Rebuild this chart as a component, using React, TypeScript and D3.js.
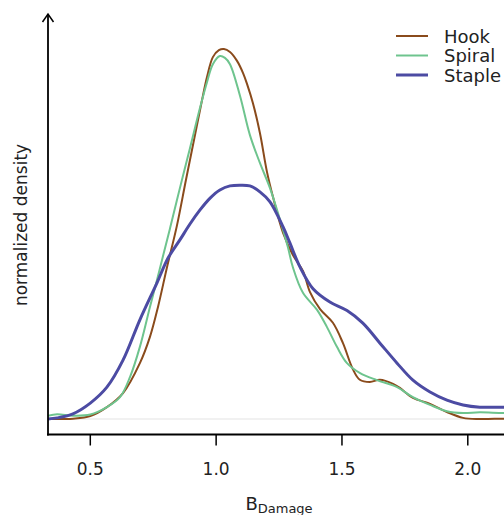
import React from 'react';
import * as d3 from 'd3';

// curves (x = B_Damage, y = normalized density)
const hook: [number, number][] = [
    [0.332, 0], [0.431, 0.001], [0.5, 0.008], [0.566, 0.032], [0.63, 0.07], [0.697, 0.151],
    [0.737, 0.222], [0.769, 0.303], [0.805, 0.411], [0.844, 0.522], [0.88, 0.646], [0.912, 0.754],
    [0.944, 0.862], [0.964, 0.925], [0.987, 0.978], [1.011, 0.997], [1.031, 1.0], [1.055, 0.992],
    [1.083, 0.968], [1.107, 0.935], [1.123, 0.905], [1.146, 0.854], [1.174, 0.773], [1.202, 0.668],
    [1.226, 0.6], [1.266, 0.503], [1.305, 0.443], [1.345, 0.4], [1.373, 0.343], [1.413, 0.297],
    [1.464, 0.26], [1.504, 0.205], [1.543, 0.135], [1.571, 0.106], [1.611, 0.1], [1.651, 0.106],
    [1.703, 0.095], [1.73, 0.084], [1.782, 0.057], [1.85, 0.041], [1.917, 0.019], [1.981, 0.003],
    [2.048, 0], [2.144, 0.001], [2.3, 0.002],
];
const spiral: [number, number][] = [
    [0.332, 0.009], [0.368, 0.013], [0.431, 0.009], [0.5, 0.012], [0.566, 0.032], [0.618, 0.059],
    [0.658, 0.114], [0.697, 0.195], [0.737, 0.303], [0.765, 0.376], [0.785, 0.43], [0.817, 0.516],
    [0.856, 0.624], [0.896, 0.732], [0.936, 0.841], [0.964, 0.911], [0.987, 0.959], [1.015, 0.981],
    [1.035, 0.976], [1.055, 0.959], [1.095, 0.873], [1.134, 0.768], [1.174, 0.692], [1.214, 0.624],
    [1.254, 0.538], [1.285, 0.465], [1.305, 0.41], [1.345, 0.341], [1.401, 0.295], [1.44, 0.249],
    [1.48, 0.195], [1.52, 0.151], [1.572, 0.124], [1.639, 0.105], [1.719, 0.086], [1.782, 0.059],
    [1.85, 0.038], [1.917, 0.021], [1.981, 0.016], [2.048, 0.018], [2.144, 0.016], [2.3, 0.016],
];
const staple: [number, number][] = [
    [0.332, 0], [0.368, 0.003], [0.431, 0.014], [0.5, 0.043], [0.566, 0.086], [0.63, 0.159],
    [0.697, 0.268], [0.765, 0.368], [0.809, 0.435], [0.856, 0.484], [0.896, 0.527], [0.936, 0.565],
    [0.976, 0.597], [1.015, 0.619], [1.055, 0.63], [1.095, 0.632], [1.134, 0.63], [1.174, 0.614],
    [1.214, 0.587], [1.266, 0.519], [1.293, 0.476], [1.333, 0.411], [1.385, 0.352], [1.452, 0.316],
    [1.52, 0.293], [1.583, 0.259], [1.651, 0.205], [1.719, 0.151], [1.782, 0.105], [1.85, 0.073],
    [1.917, 0.051], [1.981, 0.038], [2.048, 0.032], [2.144, 0.032], [2.3, 0.032],
];

const seriesNames = ['Hook', 'Spiral', 'Staple'];
const seriesData = [hook, spiral, staple];
const colors = ['#8a4b1c', '#6ec48e', '#4c4ba3'];
const widths = [2, 2, 3];
const xTicks = [0.5, 1.0, 1.5, 2.0];

const width = 504;
const height = 515;
const font = 'DejaVu Sans, sans-serif';

export default function App() {
    const x = d3.scaleLinear().domain([0.5, 2.0]).range([90.3, 467.8]);
    const y = d3.scaleLinear().domain([0, 1]).range([419, 49]);
    const line = d3.line<[number, number]>()
        .x(d => x(d[0]))
        .y(d => y(d[1]))
        .curve(d3.curveCatmullRom.alpha(0.5));

    const axisX = 48;
    const axisY = 434.5;

    return (
        <svg width={width} height={height} style={{ position: 'absolute', left: 0, top: 0 }}
            fontFamily={font}>
            <rect width={width} height={height} fill="#fff" />
            <defs>
                <clipPath id="plot">
                    <rect x={axisX} y={0} width={width - axisX} height={axisY} />
                </clipPath>
            </defs>

            {/* zero line */}
            <line x1={axisX} x2={width} y1={y(0)} y2={y(0)} stroke="#ececec" strokeWidth={1.5} />

            <g clipPath="url(#plot)">
                {seriesData.map((s, i) => (
                    <path key={seriesNames[i]} d={line(s) ?? ''} fill="none"
                        stroke={colors[i]} strokeWidth={widths[i]} />
                ))}
            </g>

            {/* axes */}
            <line x1={axisX} x2={axisX} y1={axisY + 1} y2={14} stroke="#000" strokeWidth={1.8} />
            <path d={`M${axisX - 5.5},${22} L${axisX},${14} L${axisX + 5.5},${22}`} fill="none"
                stroke="#000" strokeWidth={1.5} />
            <line x1={axisX - 1} x2={width} y1={axisY} y2={axisY} stroke="#000" strokeWidth={1.8} />
            {xTicks.map(t => (
                <g key={t}>
                    <line x1={x(t)} x2={x(t)} y1={axisY} y2={axisY + 11} stroke="#000" strokeWidth={1.5} />
                    <text x={x(t)} y={475} textAnchor="middle" fontSize={17} fill="#222">
                        {t.toFixed(1)}
                    </text>
                </g>
            ))}

            <text x={279} y={510} textAnchor="middle" fontSize={18} fill="#222">
                B<tspan fontSize={13} dy={3}>Damage</tspan>
            </text>
            <text transform="translate(27,225) rotate(-90)" textAnchor="middle" fontSize={17} fill="#222">
                normalized density
            </text>

            {/* legend */}
            {seriesNames.map((n, i) => (
                <g key={n} transform={`translate(396,${36 + i * 19.5})`}>
                    <line x1={0} x2={32} y1={0} y2={0} stroke={colors[i]} strokeWidth={widths[i]} />
                    <text x={48} y={6.5} fontSize={18} fill="#222">{n}</text>
                </g>
            ))}
        </svg>
    );
}
